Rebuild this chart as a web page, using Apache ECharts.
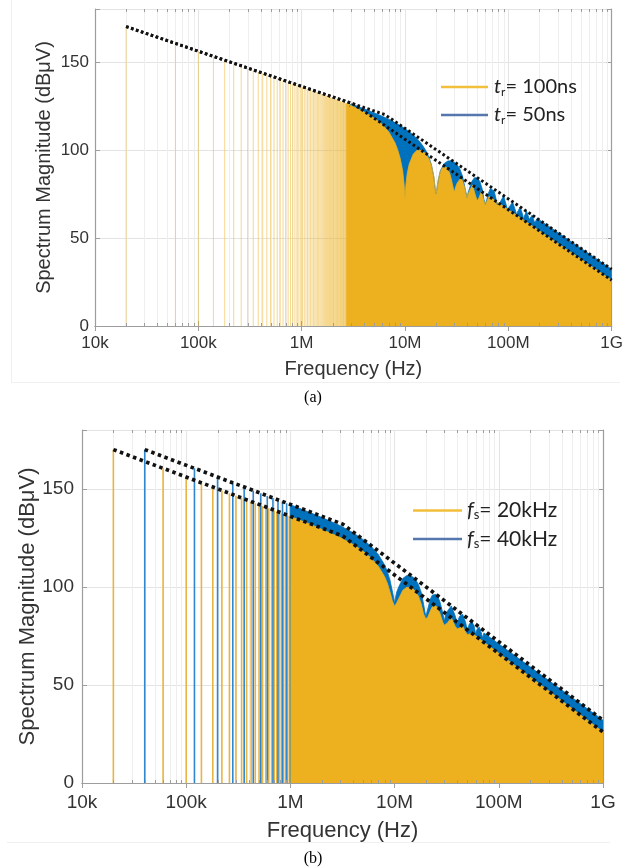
<!DOCTYPE html>
<html><head><meta charset="utf-8">
<script src="https://cdn.jsdelivr.net/npm/echarts@6/dist/echarts.min.js"></script>
<style>html,body{margin:0;padding:0;background:#fff}#c{width:626px;height:867px}</style>
</head><body><div id="c"></div>
<script>
// ---------- axis ticks ----------
const FREQ_TICKS = [1e4, 1e5, 1e6, 1e7, 1e8, 1e9];
const FREQ_TICK_LABELS = ['10k', '100k', '1M', '10M', '100M', '1G'];
const MAG_MIN = 0, MAG_MAX = 180, MAG_STEP = 50;

// ---------- panel (a): harmonics of 20 kHz (kHz / dBuV), drawn as stems ----------
const harmA_kHz = [20,60,100,140,180,220,260,300,340,380,420,460,500,540,580,620,660,700,740,780,
  820,860,900,940,980,1020,1060,1100,1140,1180,1220,1260,1300,1340,1380,1420,1460,1500,1540,1580,
  1620,1660,1700,1740,1780,1820,1860,1900,1940,1980,2020,2060,2100,2140,2180,2220,2260,2300,2340,2380,
  2420,2460,2500,2540,2580,2620,2660,2700,2740,2780];
const harmA_dB = [170.0,160.5,156.0,153.1,150.9,149.2,147.7,146.5,145.4,144.4,
  143.5,142.7,142.0,141.3,140.7,140.1,139.6,139.0,138.6,138.1,
  137.6,137.2,136.8,136.4,136.1,135.7,135.4,135.0,134.7,134.4,
  134.1,133.8,133.5,133.2,132.9,132.7,132.4,132.2,131.9,131.7,
  131.5,131.2,131.0,130.8,130.6,130.4,130.1,129.9,129.7,129.5,
  129.3,129.1,128.9,128.8,128.6,128.4,128.2,128.0,127.9,127.7,
  127.5,127.3,127.2,127.0,126.8,126.7,126.5,126.4,126.2,126.0];

// panel (a): dense-harmonic envelope, tr = 100 ns (MHz / dBuV)
const envA100_MHz = [2.7,3,4,5,6,7,8,8.5,9,9.5,9.8,10,10.2,10.5,11,12,13,14,15,16,17,18,19,19.6,20,20.4,21,22,23,25,
  27,28,29,30,31,32,35,38,39,40,41,42,45,48,50,52,55,58,60,62,65,1000];
const envA100_dB = [126.3,125.2,121.6,118.1,114.5,110.0,104.0,100.0,95.0,88.0,80.5,72,80.0,86.5,92.0,97.5,99.7,99.8,99.0,97.5,
  95.0,91.3,84.7,78,75,78,83.0,87.7,89.8,90.2,87.0,83.6,79.5,76,79,81.2,84.3,78.3,75,73,
  75,76.5,80.0,74.2,71,72.8,76.5,70.9,69,69.8,73.5,26.0];
// panel (a): dense-harmonic envelope, tr = 50 ns
const envA50_MHz = [2.9,3,4,5,6,7,8,9,10,11,12,13,14,15,16,17,18,19,19.6,20,20.4,21,22,24,26,28,30,32,34,36,
  38,39,40,41,42,44,47,50,53,56,58,60,62,64,67,70,73,76,78,80,82,84,90,96,98,100,102,110,118,120,
  122,130,138,140,142,150,160,170,180,190,1000];
const envA50_dB = [124.5,126.2,123.4,121.1,119.1,117.3,115.5,113.8,112.1,110.3,108.5,106.5,104.4,102.0,99.3,96.0,91.7,84.8,78,75,
  78,83.0,88.2,92.3,93.7,93.8,93.0,91.5,89.0,85.2,78.7,75.5,73,76,77,81.7,84.2,84.1,82.1,77.6,
  72,69,72,75.2,78.1,78.3,76.5,72.2,69,68,69.5,70.5,73.9,68.2,66,65,66.5,70.4,65,62.5,
  64.5,67.5,63,60,62,65.2,60.5,63.0,58.5,61.1,32.2];
// panel (a): asymptotes (dotted)
const asymA100_MHz = [0.02, 3.183, 1000], asymA100_dB = [170, 125.96, 26.0];
const asymA50_MHz  = [0.02, 6.366, 1000], asymA50_dB  = [170, 120.06, 32.2];

// ---------- panel (b) ----------
const harmB20_kHz = harmA_kHz.slice(0, 25);
const harmB20_dB  = harmA_dB.slice(0, 25);
const harmB40_kHz = [40,120,200,280,360,440,520,600,680,760,840,920,1000];
const harmB40_dB  = [170.0,160.5,156.0,153.1,150.9,149.1,147.7,146.4,145.3,144.3,143.5,142.6,141.9];
const envB20_MHz = [1,1.5,2,2.7,3,4,5,6,7,8,8.5,9,9.5,10,10.5,11,12,13,14,15,16,17,18,19,20,21,22,23,25,27,
  28,29,30,31,32,35,38,39,40,41,42,45,48,50,55,1000];
const envB20_dB = [135.9,132.2,129.4,126.3,125.2,121.6,118.1,114.5,110.4,105.3,102.0,97.7,93,90,92,94.2,98.3,99.7,99.8,99.0,
  97.5,95.0,91.3,86,83.5,85,87.7,89.8,90.2,87.0,84.5,82,80.5,81.5,81.5,84.3,80,79,78.5,79,
  79,80.0,77,75.5,76.5,26.0];
const envB40_MHz = [1,1.5,2,2.7,3,4,5,6,7,8,8.5,9,9.5,9.8,10,10.2,10.5,11,12,13,14,15,16,17,18,19,19.6,20,20.4,21,
  22,23,25,27,28,29,30,31,32,35,38,39,40,41,42,45,48,50,52,55,58,60,62,65,68,70,72,75,1000];
const envB40_dB = [141.9,138.2,135.4,132.3,131.2,127.6,124.1,120.5,116.4,111.3,108.0,103.7,98,94.5,91.5,94.5,97.5,100.2,104.3,105.7,
  105.8,105.0,103.5,101.0,97.3,91,87,84.5,87,89.5,93.7,95.8,96.2,93.0,90,86.5,82.5,86,87.5,90.3,
  85.5,83.5,81,83.5,85,86.0,82,77.5,81,82.5,80,76,78.5,79.5,76.5,74,76.5,77.1,32.0];
const asymB20_MHz = [0.02, 3.183, 1000], asymB20_dB = [170, 125.96, 26.0];
const asymB40_MHz = [0.04, 3.183, 1000], asymB40_dB = [170, 131.98, 32.0];

// ---------- helpers ----------
const ORANGE = '#EDB120', BLUE = '#0072BD';
const AX = '#9d9d9d', TXT = '#333333', GRID = '#e4e4e4', MINORGRID = '#eeeeee';
const pairs = (xs, ys, k) => xs.map((x, i) => [x * k, ys[i]]);
const minorFreqs = [];
for (let e = 4; e < 9; e++) for (let m = 2; m <= 9; m++) minorFreqs.push([m * Math.pow(10, e), 0]);
function freqLabel(v) {
  for (let i = 0; i < FREQ_TICKS.length; i++)
    if (Math.abs(Math.log10(v) - Math.log10(FREQ_TICKS[i])) < 1e-6) return FREQ_TICK_LABELS[i];
  return '';
}
function stemRenderer(color, width, opacity) {
  return function (params, api) {
    const p0 = api.coord([api.value(0), 0]);
    const p1 = api.coord([api.value(0), api.value(1)]);
    return {type: 'line', shape: {x1: p0[0], y1: p0[1], x2: p1[0], y2: p1[1]},
      style: {stroke: color, lineWidth: width, opacity: opacity}};
  };
}
function minorGridRenderer(params, api) {
  const pb = api.coord([api.value(0), MAG_MIN]);
  const pt = api.coord([api.value(0), MAG_MAX]);
  const x = Math.round(pb[0]) + 0.5;
  return {type: 'line', shape: {x1: x, y1: pb[1], x2: x, y2: pt[1]}, style: {stroke: MINORGRID, lineWidth: 1}};
}
function minorTickRenderer(params, api) {
  const pb = api.coord([api.value(0), MAG_MIN]);
  const pt = api.coord([api.value(0), MAG_MAX]);
  const x = Math.round(pb[0]) + 0.5;
  return {type: 'group', children: [
    {type: 'line', shape: {x1: x, y1: pb[1], x2: x, y2: pb[1] - 3}, style: {stroke: AX, lineWidth: 1}},
    {type: 'line', shape: {x1: x, y1: pt[1], x2: x, y2: pt[1] + 3}, style: {stroke: AX, lineWidth: 1}}
  ]};
}

function axesFor(g, tickFont, nameFont, xNameGap, yNameGap, yLabMargin, xLabMargin) {
  const font = 'Liberation Sans';
  const xs = [
    {type: 'log', logBase: 10, gridIndex: g, min: 1e4, max: 1e9, position: 'bottom',
      axisLine: {lineStyle: {color: AX, width: 1.2}},
      axisTick: {inside: true, length: 5, lineStyle: {color: AX}},
      axisLabel: {formatter: freqLabel, color: TXT, fontSize: tickFont, fontFamily: font, margin: xLabMargin},
      splitLine: {show: true, lineStyle: {color: GRID}},
      name: 'Frequency (Hz)', nameLocation: 'middle', nameGap: xNameGap, nameMoveOverlap: false,
      nameTextStyle: {fontSize: nameFont, color: TXT, fontFamily: font}},
    {type: 'log', logBase: 10, gridIndex: g, min: 1e4, max: 1e9, position: 'top',
      axisLine: {lineStyle: {color: AX, width: 1.2}},
      axisTick: {inside: true, length: 5, lineStyle: {color: AX}},
      axisLabel: {show: false}, splitLine: {show: false}}
  ];
  const ys = [
    {type: 'value', gridIndex: g, min: MAG_MIN, max: MAG_MAX, interval: MAG_STEP, position: 'left',
      axisLine: {show: true, lineStyle: {color: AX, width: 1.2}},
      axisTick: {show: true, inside: true, length: 5, lineStyle: {color: AX}},
      axisLabel: {color: TXT, fontSize: tickFont, fontFamily: font, margin: yLabMargin,
        formatter: v => (v % MAG_STEP === 0 ? String(v) : '')},
      splitLine: {show: true, lineStyle: {color: GRID}},
      name: 'Spectrum Magnitude (dB\u03bcV)', nameLocation: 'middle', nameGap: yNameGap, nameMoveOverlap: false,
      nameTextStyle: {fontSize: nameFont, color: TXT, fontFamily: font}},
    {type: 'value', gridIndex: g, min: MAG_MIN, max: MAG_MAX, interval: MAG_STEP, position: 'right',
      axisLine: {show: true, lineStyle: {color: AX, width: 1.2}},
      axisTick: {show: true, inside: true, length: 5, lineStyle: {color: AX}},
      axisLabel: {show: false}, splitLine: {show: false}}
  ];
  return {xs, ys};
}

const A = axesFor(0, 17, 20, 33, 41, 6, 9);
const B = axesFor(1, 19, 22, 37, 43, 8, 10);

function seriesFor(xi, yi, stems, areas, asyms, dotW, dotDash) {
  const out = [];
  out.push({type: 'custom', xAxisIndex: xi, yAxisIndex: yi, silent: true, z: 1,
    renderItem: minorGridRenderer, data: minorFreqs, encode: {x: 0, y: 1}});
  stems.forEach(s => out.push({type: 'custom', name: s.name, xAxisIndex: xi, yAxisIndex: yi, silent: true, z: 2,
    renderItem: stemRenderer(s.color, s.width, s.opacity), data: pairs(s.f, s.v, 1e3), encode: {x: 0, y: 1}}));
  areas.forEach(a => out.push({type: 'line', name: a.name, xAxisIndex: xi, yAxisIndex: yi, z: 3,
    data: pairs(a.f, a.v, 1e6), symbol: 'none', showSymbol: false, silent: true,
    color: a.color, lineStyle: {color: a.color, width: 0.8}, areaStyle: {color: a.color, opacity: 1}}));
  asyms.forEach(a => out.push({type: 'line', xAxisIndex: xi, yAxisIndex: yi, z: 5, silent: true,
    data: pairs(a.f, a.v, 1e6), symbol: 'none', showSymbol: false,
    lineStyle: {color: '#111', width: dotW, type: dotDash, cap: 'butt'}}));
  out.push({type: 'custom', xAxisIndex: xi, yAxisIndex: yi, silent: true, z: 6,
    renderItem: minorTickRenderer, data: minorFreqs, encode: {x: 0, y: 1}});
  return out;
}

const series = [].concat(
  seriesFor(0, 0,
    [{name: 'stemsA', f: harmA_kHz, v: harmA_dB, color: ORANGE, width: 1, opacity: 0.5}],
    [{name: 'tr50A', f: envA50_MHz, v: envA50_dB, color: BLUE},
     {name: 'tr100A', f: envA100_MHz, v: envA100_dB, color: ORANGE}],
    [{f: asymA100_MHz, v: asymA100_dB}, {f: asymA50_MHz, v: asymA50_dB}], 3, [2.6, 2.6]),
  seriesFor(2, 2,
    [{name: 'stemsB20', f: harmB20_kHz, v: harmB20_dB, color: '#E8B446', width: 1.6, opacity: 1},
     {name: 'stemsB40', f: harmB40_kHz, v: harmB40_dB, color: '#2F87CD', width: 1.6, opacity: 1}],
    [{name: 'fs40B', f: envB40_MHz, v: envB40_dB, color: BLUE},
     {name: 'fs20B', f: envB20_MHz, v: envB20_dB, color: ORANGE}],
    [{f: asymB20_MHz, v: asymB20_dB}, {f: asymB40_MHz, v: asymB40_dB}], 3.7, [3.5, 3.5])
);

const LEGEND_TEXT = {
  tr100A: '{i|t}{s|r}{n|= 100ns}', tr50A: '{i|t}{s|r}{n|= 50ns}',
  fs20B: '{i|f}{s|s}{n|= 20kHz}', fs40B: '{i|f}{s|s}{n|= 40kHz}'
};
const richFor = fs => ({
  i: {fontFamily: 'Lato', fontStyle: 'italic', fontSize: fs, color: '#222', lineHeight: 22},
  s: {fontFamily: 'Lato', fontSize: Math.round(fs * 0.62), color: '#222', lineHeight: 22, verticalAlign: 'bottom'},
  n: {fontFamily: 'Lato', fontSize: fs, color: '#222', lineHeight: 22}
});

const option = {
  animation: false,
  backgroundColor: '#ffffff',
  grid: [
    {left: 95, right: 12, top: 9, bottom: 541, containLabel: false},
    {left: 82, right: 23, top: 430, bottom: 84, containLabel: false}
  ],
  xAxis: [...A.xs, ...B.xs.map(a => Object.assign({}, a, {gridIndex: 1}))],
  yAxis: [...A.ys, ...B.ys.map(a => Object.assign({}, a, {gridIndex: 1}))],
  legend: [
    {left: 436, top: 72, orient: 'vertical', itemWidth: 47, itemHeight: 2.5, itemGap: 7, icon: 'rect',
      selectedMode: false, data: [{name: 'tr100A', itemStyle: {color: '#F3BF3A'}}, {name: 'tr50A', itemStyle: {color: '#5577AD'}}],
      formatter: n => LEGEND_TEXT[n], textStyle: {rich: richFor(20), padding: [0, 0, 0, 1]}},
    {left: 408, top: 495, orient: 'vertical', itemWidth: 49, itemHeight: 2.5, itemGap: 7, icon: 'rect',
      selectedMode: false, data: [{name: 'fs20B', itemStyle: {color: '#F3BF3A'}}, {name: 'fs40B', itemStyle: {color: '#5577AD'}}],
      formatter: n => LEGEND_TEXT[n], textStyle: {rich: richFor(21), padding: [0, 0, 0, 0]}}
  ],
  title: [
    {text: '(a)', left: 'center', top: 385, textStyle: {fontFamily: 'Liberation Serif', fontSize: 16, fontWeight: 'normal', color: '#000'}},
    {text: '(b)', left: 'center', top: 846, textStyle: {fontFamily: 'Liberation Serif', fontSize: 16, fontWeight: 'normal', color: '#000'}}
  ],
  graphic: [
    {type: 'line', shape: {x1: 11.5, y1: 0, x2: 11.5, y2: 382}, style: {stroke: '#f0f0f0', lineWidth: 1}, silent: true},
    {type: 'line', shape: {x1: 11, y1: 382.5, x2: 620, y2: 382.5}, style: {stroke: '#f0f0f0', lineWidth: 1}, silent: true},
    {type: 'line', shape: {x1: 7, y1: 842.5, x2: 610, y2: 842.5}, style: {stroke: '#f0f0f0', lineWidth: 1}, silent: true}
  ],
  series: series
};
const chart = echarts.init(document.getElementById('c'), null, {renderer: 'canvas'});
chart.setOption(option);
</script>
</body></html>
